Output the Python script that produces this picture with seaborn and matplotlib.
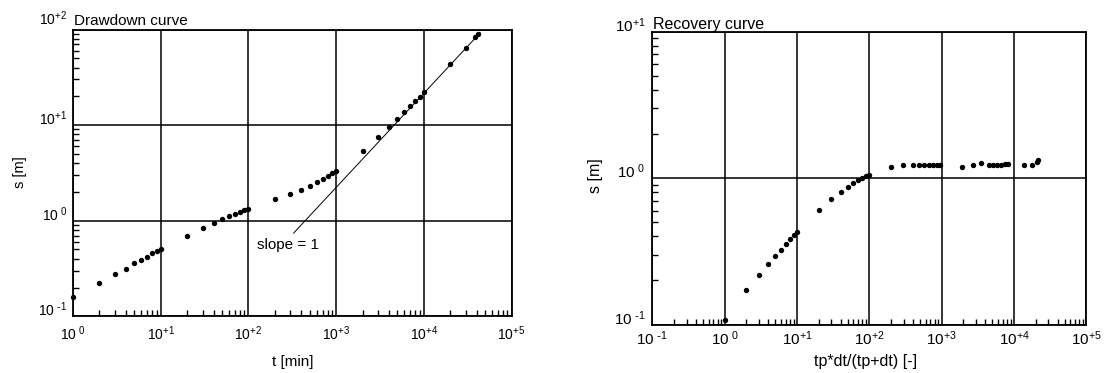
import numpy as np
import pandas as pd
import matplotlib
matplotlib.use("Agg")
import matplotlib.pyplot as plt
import seaborn as sns
from matplotlib.ticker import FixedLocator, NullFormatter
from matplotlib.transforms import ScaledTranslation

# ---------------- data ----------------
# Drawdown curve
dd_t = [1, 2, 3, 4, 5, 6, 7, 8, 9, 10,
        20, 30, 40, 50, 60, 70, 80, 90, 100,
        200, 300, 400, 500, 600, 700, 800, 900, 1000,
        2000, 3000, 4000, 5000, 6000, 7000, 8000, 9000, 10000,
        20000, 30000, 38000, 42000]
dd_s = [0.160, 0.224, 0.274, 0.316, 0.357, 0.390, 0.422, 0.454, 0.481, 0.505,
        0.696, 0.845, 0.938, 1.03, 1.11, 1.17, 1.23, 1.28, 1.34,
        1.68, 1.91, 2.11, 2.32, 2.55, 2.72, 2.94, 3.14, 3.31,
        5.37, 7.48, 9.6, 11.5, 13.8, 15.9, 17.9, 19.9, 22.2,
        43.2, 63.4, 84.0, 88.7]
slope_t = [327, 44000]
slope_s = [0.74, 92.5]
slope_text_t = 126
slope_text_s = 0.56

# Recovery curve
rec_x = [1, 2, 3, 4, 5, 6, 7, 8, 9, 10,
         20, 30, 40, 50, 60, 70, 80, 90, 100,
         200, 295, 400, 490, 575, 660, 760, 855, 960,
         1920, 2750, 3500, 4450, 5150, 5900, 6700, 7500, 8300,
         13900, 17500, 21000, 21400]
rec_s = [0.107, 0.172, 0.219, 0.259, 0.293, 0.325, 0.354, 0.381, 0.408, 0.431,
         0.604, 0.719, 0.808, 0.871, 0.923, 0.973, 1.00, 1.026, 1.05,
         1.19, 1.23, 1.235, 1.22, 1.22, 1.22, 1.22, 1.22, 1.225,
         1.20, 1.235, 1.27, 1.23, 1.23, 1.23, 1.23, 1.24, 1.25,
         1.23, 1.23, 1.29, 1.33]

def lab(e):
    if e == 0:
        return r"$\mathregular{10^{\ 0}}$"
    if e < 0:
        return r"$\mathregular{10^{\ \text{-}%d}}$" % (-e)
    return r"$\mathregular{10^{+%d}}$" % e

dd_xexp = [0, 1, 2, 3, 4, 5]
dd_yexp = [-1, 0, 1, 2]
rec_xexp = [-1, 0, 1, 2, 3, 4, 5]
rec_yexp = [-1, 0, 1]

dd_title = "Drawdown curve"
rec_title = "Recovery curve"
dd_xlabel = "t [min]"
rec_xlabel = "tp*dt/(tp+dt) [-]"
ylabel = "s [m]"

# ---------------- style ----------------
sns.set_style("white")
plt.rcParams['font.family'] = ['Liberation Sans', 'DejaVu Sans']
plt.rcParams['mathtext.default'] = 'regular'

W, H = 1104, 373
fig = plt.figure(figsize=(W / 100, H / 100), dpi=100)

def px_axes(l, r, t, b):
    return fig.add_axes([l / W, (H - b) / H, (r - l) / W, (b - t) / H])

ax1 = px_axes(73, 511.5, 29.5, 316.3)
ax2 = px_axes(652.3, 1086.3, 31.7, 324.5)

def minors(exps):
    return [m * 10.0 ** e for e in exps[:-1] for m in range(2, 10)]

def setup(ax, xexp, yexp, tick_fs, xpad, ypad):
    ax.set_xscale('log')
    ax.set_yscale('log')
    ax.set_xlim(10.0 ** xexp[0], 10.0 ** xexp[-1])
    ax.set_ylim(10.0 ** yexp[0], 10.0 ** yexp[-1])
    ax.set_xticks([10.0 ** e for e in xexp], [lab(e) for e in xexp])
    ax.set_yticks([10.0 ** e for e in yexp], [lab(e) for e in yexp])
    ax.xaxis.set_minor_locator(FixedLocator(minors(xexp)))
    ax.yaxis.set_minor_locator(FixedLocator(minors(yexp)))
    ax.xaxis.set_minor_formatter(NullFormatter())
    ax.yaxis.set_minor_formatter(NullFormatter())
    ax.tick_params(which='major', length=0, labelsize=tick_fs, colors='black')
    ax.tick_params(axis='x', which='major', pad=xpad)
    ax.tick_params(axis='y', which='major', pad=ypad)
    ax.tick_params(which='minor', direction='in', length=4, width=1.0, color='black',
                   bottom=True, left=True, top=False, right=False)
    ax.grid(True, which='major', color='black', linewidth=1.1)
    ax.grid(False, which='minor')
    for s in ax.spines.values():
        s.set_visible(True)
        s.set_color('black')
        s.set_linewidth(1.3)
    for lbl in ax.get_yticklabels():
        lbl.set_verticalalignment('baseline')

# ---------------- marks ----------------
dd_df = pd.DataFrame({'t': dd_t, 's': dd_s})
rec_df = pd.DataFrame({'x': rec_x, 's': rec_s})
slope_df = pd.DataFrame({'t': slope_t, 's': slope_s})

for ax in (ax1, ax2):
    ax.set_xscale('log')
    ax.set_yscale('log')

sns.lineplot(data=slope_df, x='t', y='s', ax=ax1, color='black', linewidth=0.7,
             estimator=None, sort=False, zorder=3)
sns.scatterplot(data=dd_df, x='t', y='s', ax=ax1, color='black', s=15,
                linewidth=0, zorder=4, clip_on=False)
sns.scatterplot(data=rec_df, x='x', y='s', ax=ax2, color='black', s=15,
                linewidth=0, zorder=4, clip_on=False)

setup(ax1, dd_xexp, dd_yexp, 10, 6.0, 4.0)
setup(ax2, rec_xexp, rec_yexp, 11, 3.6, 5.0)

# top label of left panel sits slightly above the frame
top_lbl = ax1.get_yticklabels()[-1]
top_lbl.set_transform(top_lbl.get_transform() + ScaledTranslation(0, 4 / 100, fig.dpi_scale_trans))

ax1.text(slope_text_t, slope_text_s, "slope = 1", fontsize=11, va='center', ha='left',
         color='black', zorder=5)

# ---------------- texts ----------------
ax1.text(0.003, 1.0 + 4.5 / 286.8, dd_title, transform=ax1.transAxes, fontsize=11,
         ha='left', va='baseline', color='black')
ax2.text(0.002, 1.0 + 2.5 / 292.8, rec_title, transform=ax2.transAxes, fontsize=11.5,
         ha='left', va='baseline', color='black')

ax1.set_xlabel(dd_xlabel, fontsize=11, color='black')
ax1.set_ylabel(ylabel, fontsize=10.5, color='black')
ax1.xaxis.set_label_coords(0.5, -0.16)
ax1.yaxis.set_label_coords(-0.121, 0.504)
ax1.xaxis.label.set_verticalalignment('center')
ax1.yaxis.label.set_verticalalignment('center')

ax2.set_xlabel(rec_xlabel, fontsize=11.5, color='black')
ax2.set_ylabel(ylabel, fontsize=11.5, color='black')
ax2.xaxis.set_label_coords(0.492, -0.128)
ax2.yaxis.set_label_coords(-0.13, 0.51)
ax2.xaxis.label.set_verticalalignment('center')
ax2.yaxis.label.set_verticalalignment('center')

fig.savefig("out.png", dpi=100, facecolor='white')
